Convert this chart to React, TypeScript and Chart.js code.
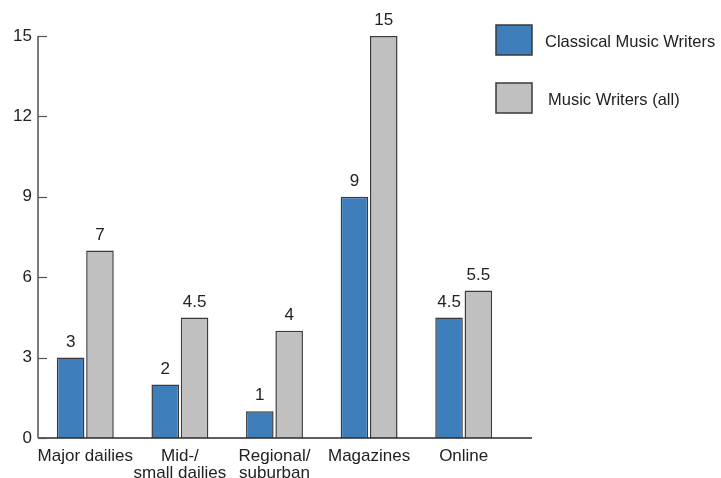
import React, { useEffect, useRef } from "react";
import { Chart, registerables } from "chart.js";

Chart.register(...registerables);

const categories: (string | string[])[] = [
  "Major dailies",
  ["Mid-/", "small dailies"],
  ["Regional/", "suburban"],
  "Magazines",
  "Online",
];
const classicalWriters = [3, 2, 1, 9, 4.5];
const allMusicWriters = [7, 4.5, 4, 15, 5.5];
const yTicks = [0, 3, 6, 9, 12, 15];
const seriesNames = ["Classical Music Writers", "Music Writers (all)"];

const BLUE = "#3e7ebb";
const GRAY = "#c0c0c0";
const EDGE = "#3a3a3a";
const TEXT = "#222222";
const FONT = "'Liberation Sans', Arial, sans-serif";

// Axes, inward tick marks, value labels and the legend boxes
const decorations = {
  id: "decorations",
  afterDatasetsDraw(chart: any) {
    const { ctx, chartArea, scales } = chart;
    const y = scales.y;
    ctx.save();

    // baseline runs a little past the last group
    ctx.strokeStyle = "#2a2a2a";
    ctx.lineWidth = 1.5;
    ctx.beginPath();
    ctx.moveTo(chartArea.left, chartArea.bottom);
    ctx.lineTo(chartArea.right + 21, chartArea.bottom);
    ctx.stroke();

    // left axis
    ctx.strokeStyle = "#7a7a7a";
    ctx.lineWidth = 2;
    ctx.beginPath();
    ctx.moveTo(chartArea.left, chartArea.top);
    ctx.lineTo(chartArea.left, chartArea.bottom);
    ctx.stroke();

    // tick marks pointing into the plot
    ctx.strokeStyle = "#555";
    ctx.lineWidth = 1.2;
    yTicks.forEach((v) => {
      const py = Math.round(y.getPixelForValue(v)) + 0.5;
      ctx.beginPath();
      ctx.moveTo(chartArea.left, py);
      ctx.lineTo(chartArea.left + 9, py);
      ctx.stroke();
    });

    // value labels above each bar
    ctx.fillStyle = TEXT;
    ctx.font = `17px ${FONT}`;
    ctx.textAlign = "center";
    ctx.textBaseline = "bottom";
    chart.data.datasets.forEach((ds: any, di: number) => {
      const meta = chart.getDatasetMeta(di);
      meta.data.forEach((bar: any, i: number) => {
        ctx.fillText(String(ds.data[i]), bar.x, bar.y - 7);
      });
    });

    // legend
    const lx = chartArea.right - 15;
    const colors = [BLUE, GRAY];
    const rows = [25, 83];
    ctx.font = `16.5px ${FONT}`;
    ctx.textAlign = "left";
    ctx.textBaseline = "middle";
    seriesNames.forEach((name, i) => {
      ctx.fillStyle = colors[i];
      ctx.fillRect(lx, rows[i], 36, 30);
      ctx.strokeStyle = EDGE;
      ctx.lineWidth = 1.5;
      ctx.strokeRect(lx, rows[i], 36, 30);
      ctx.fillStyle = TEXT;
      ctx.fillText(name, lx + 49 + i * 3, rows[i] + 17);
    });

    ctx.restore();
  },
};

export default function App() {
  const ref = useRef<HTMLCanvasElement | null>(null);

  useEffect(() => {
    document.body.style.margin = "0";
    const canvas = ref.current;
    if (!canvas) return;
    const chart = new Chart(canvas, {
      type: "bar",
      data: {
        labels: categories,
        datasets: [
          {
            label: seriesNames[0],
            data: classicalWriters,
            backgroundColor: BLUE,
            borderColor: EDGE,
            borderWidth: 1.5,
            categoryPercentage: 0.62,
            barPercentage: 0.94,
          },
          {
            label: seriesNames[1],
            data: allMusicWriters,
            backgroundColor: GRAY,
            borderColor: EDGE,
            borderWidth: 1.5,
            categoryPercentage: 0.62,
            barPercentage: 0.94,
          },
        ],
      },
      options: {
        responsive: false,
        animation: false,
        layout: { padding: { top: 36, right: 210, left: 0, bottom: 0 } },
        plugins: {
          legend: { display: false },
          tooltip: { enabled: false },
        },
        scales: {
          x: {
            grid: { display: false, drawTicks: false },
            border: { display: false },
            ticks: {
              color: TEXT,
              font: { family: FONT, size: 17, lineHeight: 0.98 },
              padding: 10,
              maxRotation: 0,
              autoSkip: false,
            },
            afterFit: (s: any) => {
              s.height = 40;
            },
          },
          y: {
            min: 0,
            max: 15,
            grid: { display: false, drawTicks: false },
            border: { display: false },
            ticks: {
              stepSize: 3,
              color: TEXT,
              font: { family: FONT, size: 17 },
              padding: 6,
            },
            afterFit: (s: any) => {
              s.width = 38;
            },
          },
        },
      },
      plugins: [decorations],
    });
    return () => chart.destroy();
  }, []);

  return <canvas ref={ref} width={721} height={478} style={{ display: "block" }} />;
}
